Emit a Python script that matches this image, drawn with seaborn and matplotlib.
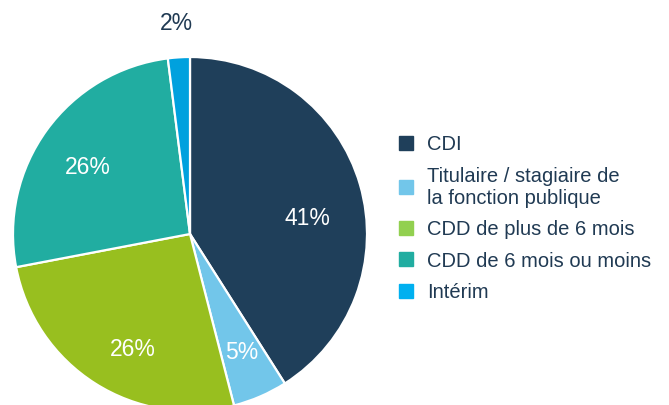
import numpy as np
import matplotlib
matplotlib.use("Agg")
import matplotlib.pyplot as plt
import seaborn as sns
from matplotlib.lines import Line2D

categories = ["CDI",
              "Titulaire / stagiaire de\nla fonction publique",
              "CDD de plus de 6 mois",
              "CDD de 6 mois ou moins",
              "Intérim"]
shares = [41, 5, 26, 26, 2]
slice_colors = ["#1F3F5A", "#72C6EA", "#98BF1F", "#21ADA1", "#00A1DE"]
legend_colors = ["#1F3F5A", "#72C6EA", "#92D050", "#21ADA1", "#00B0F0"]

# label placement (fraction of radius, angular nudge in degrees)
label_r = [0.67, 0.73, 0.73, 0.69, 1.19]
label_shift = [-8.5, 0, 6, 3, 0]
label_col = ["white", "white", "white", "white", "#203A53"]

sns.set_theme(style="white")
plt.rcParams["font.family"] = ["Liberation Sans", "DejaVu Sans"]

fig = plt.figure(figsize=(6.69, 4.05), dpi=100)
ax = fig.add_axes([13 / 669, -6 / 405, 354 / 669, 354 / 405])

wedges, _ = ax.pie(shares, colors=slice_colors, startangle=90, counterclock=False,
                   radius=1, wedgeprops=dict(edgecolor="white", linewidth=1.6))
ax.set_xlim(-1, 1)
ax.set_ylim(-1, 1)
ax.set_aspect("equal")

for w, v, r, sh, c in zip(wedges, shares, label_r, label_shift, label_col):
    mid = np.deg2rad((w.theta1 + w.theta2) / 2 + sh)
    ax.text(r * np.cos(mid), r * np.sin(mid), f"{v}%", ha="center", va="center",
            fontsize=16.5, color=c, clip_on=False)

handles = [Line2D([], [], marker="s", linestyle="", markersize=10,
                  markerfacecolor=c, markeredgecolor=c) for c in legend_colors]
fig.legend(handles, categories, loc="upper left", bbox_to_anchor=(388 / 669, 1 - 127 / 405),
           frameon=False, fontsize=14.5, labelcolor="#203A53", handletextpad=0.55,
           labelspacing=0.62, handlelength=1.0, borderaxespad=0)

fig.savefig("out.png", dpi=100)
